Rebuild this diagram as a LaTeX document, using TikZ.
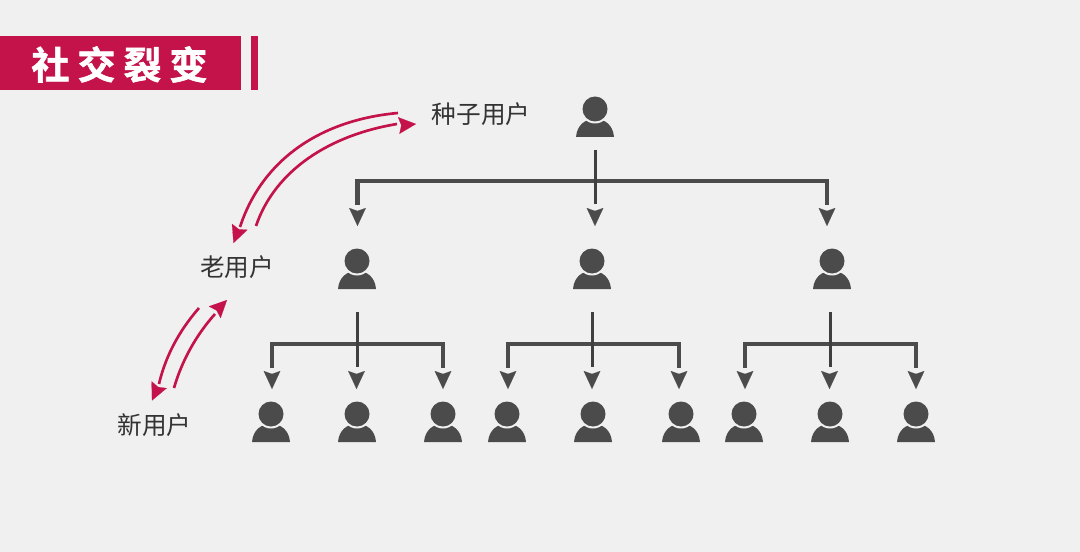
\documentclass[tikz,border=0pt]{standalone}
\usepackage{fontspec}
\setmainfont{Noto Sans CJK SC}
\newfontfamily\cjktitle{Noto Sans CJK SC Bold}[FakeBold=1.6]
\usetikzlibrary{arrows.meta,calc}
\definecolor{pagebg}{HTML}{F0F0F0}
\definecolor{crim}{HTML}{C4134A}
\definecolor{ink}{HTML}{4B4B4B}
\definecolor{stemink}{HTML}{3F3F3F}
\definecolor{txt}{HTML}{333333}
\tikzset{
  x=0.75pt,y=-0.75pt,
  usericon/.pic={
    \fill[ink] (-19,20) .. controls (-18,8) and (-10,2) .. (0,2) .. controls (10,2) and (18,8) .. (19,20) -- cycle;
    \fill[pagebg] (0,-8) circle[radius=14.5];
    \fill[ink] (0,-8) circle[radius=12.5];
  },
  personbox/.style={minimum width=28.5pt,minimum height=30pt,inner sep=0pt,outer sep=0pt},
  bus/.style={draw=ink,line width=3.2pt,line join=miter},
  stem/.style={draw=stemink,line width=2.25pt},
  headtip/.style={draw=ink,line width=0.1pt,-{Stealth[length=13.5pt,width=12.5pt,inset=2.2pt,fill=ink]}},
  swoop/.style={draw=crim,line width=2pt},
  swooptip/.style={draw=crim,line width=0.1pt,-{Stealth[length=13pt,width=12.5pt,inset=1.9pt,fill=crim]}},
  rolelabel/.style={text=txt,font=\fontsize{18.5}{22}\selectfont,inner sep=0pt},
  titlebar/.style={fill=crim}
}
% person node plus its icon
\newcommand\person[3]{\node[personbox] (#1) at (#2,#3) {}; \pic at (#1) {usericon};}
% one three-way branch: name, trunk x, y0, y-end, bus y, left/mid/right tip x, tip y
\newcommand\branch[9]{%
  \coordinate (#1L) at (#6,#9);
  \coordinate (#1M) at (#7,#9);
  \coordinate (#1R) at (#8,#9);
  \coordinate (#1T) at (#2,#3);
  \coordinate (#1E) at (#2,#4);
  \coordinate (#1B) at (#7,#5);
  \draw[bus] ($(#1L)+(0,-21)$) |- (#1B) -| ($(#1R)+(0,-21)$);
  \draw[stem] (#1T) -- (#1E);
  \draw[headtip] ($(#1L)+(0,-15)$) -- (#1L);
  \draw[headtip] ($(#1M)+(0,-15)$) -- (#1M);
  \draw[headtip] ($(#1R)+(0,-15)$) -- (#1R);
}
\begin{document}
\begin{tikzpicture}
\useasboundingbox (0,0) rectangle (1080,552);
\fill[pagebg] (0,0) rectangle (1080,552);

% title
\fill[titlebar] (0,36) rectangle (241,90);
\fill[titlebar] (251,36) rectangle (258,90);
\node[text=white,inner sep=0pt,font=\cjktitle\fontsize{28.5}{32}\selectfont] (title) at (119.5,64.5) {社\kern6pt 交\kern6pt 裂\kern6pt 变};

% labels
\node[rolelabel] (seedlabel) at (481,114) {种子用户};
\node[rolelabel] (oldlabel) at (237,267.5) {老用户};
\node[rolelabel] (newlabel) at (154.5,425.5) {新用户};

% people
\person{p0}{595}{117}
\person{a1}{357}{269}
\person{a2}{592}{269}
\person{a3}{832}{269}
\person{b1}{271}{422}
\person{b2}{357}{422}
\person{b3}{443}{422}
\person{b4}{507}{422}
\person{b5}{593}{422}
\person{b6}{681}{422}
\person{b7}{744}{422}
\person{b8}{830}{422}
\person{b9}{916}{422}

% branches
\branch{r}{595}{150}{204}{181}{357.5}{595}{827}{226}
\branch{g}{357.5}{312}{367}{344}{272}{356.5}{443}{389}
\branch{h}{592.5}{312}{367}{344}{508}{592}{679}{389}
\branch{k}{830}{312}{367}{344}{745}{829.5}{916}{389}

% crimson arrows
\coordinate (s1) at (398,113);
\coordinate (s1e) at (240,227);
\coordinate (s1n) at (239,228.7);
\coordinate (s1t) at (233.5,243);
\coordinate (s3) at (256,226);
\coordinate (s3e) at (397,124);
\coordinate (s3n) at (401,125.3);
\coordinate (s3t) at (416,124);
\coordinate (s5) at (199,308);
\coordinate (s5e) at (159,384);
\coordinate (s5n) at (158.3,386.6);
\coordinate (s5t) at (152,400.5);
\coordinate (s7) at (174,388);
\coordinate (s7e) at (215,314);
\coordinate (s7n) at (216,311);
\coordinate (s7t) at (227,300);
\draw[swoop] (s1) .. controls (320,120) and (262,160) .. (s1e);
\draw[swooptip] (s1n) -- (s1t);
\draw[swoop] (s3) .. controls (275,170) and (330,135) .. (s3e);
\draw[swooptip] (s3n) -- (s3t);
\draw[swoop] (s5) .. controls (178,332) and (165,358) .. (s5e);
\draw[swooptip] (s5n) -- (s5t);
\draw[swoop] (s7) .. controls (182,360) and (197,334) .. (s7e);
\draw[swooptip] (s7n) -- (s7t);
\end{tikzpicture}
\end{document}
